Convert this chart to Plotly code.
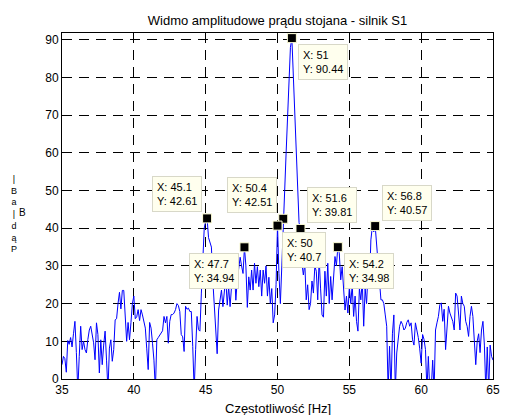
import plotly.graph_objects as go

# Amplitude spectrum of the stator current, 0.1 Hz resolution, 35..65 Hz
f_start = 35.0
f_step = 0.1
amp_db = [
    # 35
    3.8, 6.0, 5.4, 1.8, 10.2, 9.2, 11.0, 8.5, 12.0, 15.3,
    # 36
    7.0, -3.0, 6.0, 14.0, 7.8, 10.0, 7.8, 6.9, 10.5, 13.0,
    # 37
    14.0, 12.2, 9.6, 5.1, 14.9, 11.8, 1.6, 10.4, 3.8, 9.0,
    # 38
    12.7, 5.0, -3.0, 8.2, 10.4, 4.7, 7.8, 15.7, 16.0, 20.0,
    # 39
    23.0, 18.6, 23.5, 23.5, 17.5, 10.0, 15.0, 10.4, 15.0, 20.0,
    # 40
    22.0, 16.0, 16.5, 18.4, 15.5, 18.4, 17.0, 14.9, 13.5, 8.0,
    # 41
    2.5, 15.0, 13.5, 9.5, 5.0, -3.0, 10.4, 11.0, 11.5, 12.0,
    # 42
    12.8, 16.6, 14.9, 16.6, 9.5, 15.3, 17.1, 17.1, 17.5, 18.4,
    # 43
    20.0, 19.5, 17.9, 11.8, 11.2, 7.3, 19.3, 18.5, 18.8, 17.9,
    # 44
    17.9, 8.6, -3.0, 7.8, 16.6, 13.1, 12.7, 22.8, 31.3, 40.0,
    # 45
    42.0, 42.61, 37.5, 36.5, 35.0, 26.0, 19.0, 14.0, 6.7, 18.3,
    # 46
    21.8, 23.6, 19.2, 23.6, 27.1, 19.6, 24.5, 19.2, 25.4, 29.8,
    # 47
    29.8, 20.9, 26.3, 29.8, 32.3, 30.0, 28.0, 34.94, 30.0, 19.0,
    # 48
    27.1, 23.6, 28.9, 23.6, 30.7, 25.4, 29.8, 24.5, 28.9, 22.0,
    # 49
    28.9, 25.4, 30.0, 22.0, 27.0, 20.0, 24.0, 14.9, 17.0, 25.0,
    # 50
    40.7, 28.0, 20.0, 30.0, 42.51, 50.0, 60.0, 70.0, 80.0, 88.0,
    # 51
    90.44, 80.0, 70.0, 62.0, 51.0, 41.5, 39.81, 30.7, 27.6, 30.7,
    # 52
    21.0, 25.0, 18.4, 20.0, 26.0, 22.8, 30.0, 28.6, 21.0, 32.0,
    # 53
    23.9, 17.0, 16.4, 28.6, 22.0, 30.7, 20.0, 27.2, 21.0, 28.0,
    # 54
    32.5, 30.0, 34.98, 33.4, 26.3, 29.8, 24.5, 18.3, 22.0, 17.5,
    # 55
    24.5, 20.0, 25.0, 16.6, 22.0, 15.3, 12.7, 24.0, 21.0, 26.0,
    # 56
    14.0, 24.0, 20.0, 28.0, 25.0, 36.9, 40.4, 39.0, 40.57, 36.0,
    # 57
    31.6, 25.0, 21.0, 21.0, 20.0, 17.0, 14.0, -3.0, 8.7, -3.0,
    # 58
    12.0, 17.0, -3.0, 6.9, 11.3, 14.0, 15.3, 14.5, 13.0, 13.5,
    # 59
    15.0, 15.7, 14.0, 14.9, 10.4, 9.0, 14.9, 13.0, 11.0, 8.0,
    # 60
    4.2, 11.8, 10.5, 7.8, -3.0, 6.0, -3.0, -3.0, 5.0, -3.0,
    # 61
    13.0, 14.9, 16.6, 19.7, 20.2, 15.3, 18.5, 7.8, 15.3, 19.3,
    # 62
    17.5, 16.6, 15.3, 13.0, 22.8, 22.0, 17.5, 13.0, 22.0, 20.0,
    # 63
    19.3, 15.3, 14.0, 11.3, 16.6, 19.3, 16.6, 9.0, 3.8, 10.0,
    # 64
    12.0, 7.0, 13.0, 15.3, 9.0, -3.0, 8.5, -3.0, 9.0, 6.0,
    # 65
    5.0,
]
freq = [round(f_start + i * f_step, 1) for i in range(len(amp_db))]

# Data cursors: frequency, amplitude
tip_x = [51.0, 45.1, 50.4, 51.6, 50.0, 47.7, 54.2, 56.8]
tip_y = [90.44, 42.61, 42.51, 39.81, 40.7, 34.94, 34.98, 40.57]
# box placement relative to the cursor point (anchor, pixel shifts)
tip_xanchor = ["left", "right", "right", "left", "left", "right", "left", "left"]
tip_yanchor = ["top", "bottom", "bottom", "bottom", "top", "top", "top", "bottom"]
tip_dx = [6, -5, -6, 7, 4, -5, 6, 7]
tip_dy = [-6, 6, 6, 6, -6, -6, -6, 5]

x_ticks = [35, 40, 45, 50, 55, 60, 65]
y_ticks = [0, 10, 20, 30, 40, 50, 60, 70, 80, 90]

# y label "Prąd [dB]" rendered as a vertical stack of glyphs
ylab_stack = ["|", "B", "a", "|", "d", "ą", "P"]
ylab_side = "B"

FONT = "Liberation Sans, Arial, sans-serif"

fig = go.Figure()
fig.add_trace(go.Scatter(
    x=freq, y=amp_db, mode="lines",
    line=dict(color="#0000ff", width=1),
    hoverinfo="skip", showlegend=False,
))
fig.add_trace(go.Scatter(
    x=tip_x, y=tip_y, mode="markers",
    marker=dict(symbol="square", size=9, color="black",
                line=dict(color="#ffffd8", width=1)),
    hoverinfo="skip", showlegend=False,
))

def fmt(v):
    return f"{v:.2f}".rstrip("0").rstrip(".")

for x, y, xa, ya, dx, dy in zip(tip_x, tip_y, tip_xanchor, tip_yanchor, tip_dx, tip_dy):
    fig.add_annotation(
        x=x, y=y, xref="x", yref="y",
        text=f"X: {fmt(x)}<br>Y: {fmt(y)}",
        showarrow=False, align="left",
        xanchor=xa, yanchor=ya, xshift=dx, yshift=dy,
        font=dict(family=FONT, size=11, color="black"),
        bgcolor="#ffffee", bordercolor="#d8d8c8", borderwidth=1, borderpad=4,
    )

fig.add_annotation(
    x=0, y=0, xref="paper", yref="paper",
    xshift=14 - 62, yshift=379 - 214,
    text="<br>".join(ylab_stack), showarrow=False,
    xanchor="center", yanchor="middle", align="center",
    font=dict(family=FONT, size=9, color="black"),
)
fig.add_annotation(
    x=0, y=0, xref="paper", yref="paper",
    xshift=22 - 62, yshift=379 - 212,
    text=ylab_side, showarrow=False,
    xanchor="center", yanchor="middle",
    font=dict(family=FONT, size=10, color="black"),
)

fig.add_annotation(
    x=0.5, y=0, xref="paper", yref="paper", yanchor="top", yshift=-20,
    text="Częstotliwość [Hz]", showarrow=False,
    font=dict(family=FONT, size=13, color="black"),
)

axis_common = dict(
    showline=True, linecolor="black", linewidth=1, mirror="ticks",
    ticks="inside", ticklen=4, tickcolor="black",
    showgrid=True, gridcolor="black", gridwidth=1, griddash="10px,7px",
    zeroline=False, tickfont=dict(family=FONT, size=12, color="black"),
)

fig.update_xaxes(range=[35, 65], tickvals=x_ticks, **axis_common)
fig.update_yaxes(range=[0, 91.8], tickvals=y_ticks, **axis_common)

fig.update_layout(
    width=510, height=415,
    margin=dict(l=62, r=10, t=33, b=36),
    paper_bgcolor="white", plot_bgcolor="white",
    title=dict(text="Widmo amplitudowe prądu stojana - silnik S1",
               x=0.5, xref="paper", y=1 - 20 / 415, yref="container",
               yanchor="middle", font=dict(family=FONT, size=13, color="black")),
    font=dict(family=FONT),
)

fig.write_html("out.html")
